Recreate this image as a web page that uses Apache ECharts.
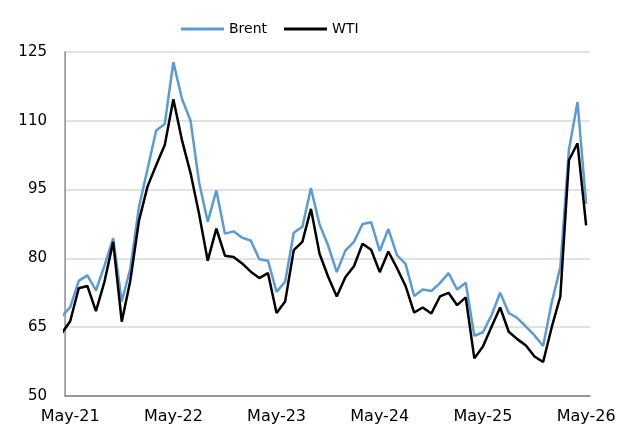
<!DOCTYPE html>
<html>
<head>
<meta charset="utf-8">
<script src="https://cdn.jsdelivr.net/npm/echarts@6/dist/echarts.min.js"></script>
<style>
html, body { margin: 0; padding: 0; background: #fff; }
#chart { width: 629px; height: 434px; }
</style>
</head>
<body>
<div id="chart"></div>
<script>
// month-end prices, Apr-21 .. May-26
const months = [
    'Apr-21', 'May-21', 'Jun-21', 'Jul-21', 'Aug-21', 'Sep-21', 'Oct-21', 'Nov-21', 'Dec-21',
    'Jan-22', 'Feb-22', 'Mar-22', 'Apr-22', 'May-22', 'Jun-22', 'Jul-22', 'Aug-22', 'Sep-22', 'Oct-22', 'Nov-22', 'Dec-22',
    'Jan-23', 'Feb-23', 'Mar-23', 'Apr-23', 'May-23', 'Jun-23', 'Jul-23', 'Aug-23', 'Sep-23', 'Oct-23', 'Nov-23', 'Dec-23',
    'Jan-24', 'Feb-24', 'Mar-24', 'Apr-24', 'May-24', 'Jun-24', 'Jul-24', 'Aug-24', 'Sep-24', 'Oct-24', 'Nov-24', 'Dec-24',
    'Jan-25', 'Feb-25', 'Mar-25', 'Apr-25', 'May-25', 'Jun-25', 'Jul-25', 'Aug-25', 'Sep-25', 'Oct-25', 'Nov-25', 'Dec-25',
    'Jan-26', 'Feb-26', 'Mar-26', 'Apr-26', 'May-26'
]
const brent = [
    67.3, 69.3, 75.1, 76.3, 73.0, 78.5, 84.4, 70.6, 77.8,
    91.2, 99.5, 107.9, 109.3, 122.8, 114.8, 110.0, 96.5, 88.0, 94.8, 85.4, 85.9,
    84.5, 83.9, 79.8, 79.5, 72.7, 74.9, 85.6, 86.9, 95.3, 87.4, 82.8, 77.0,
    81.7, 83.6, 87.5, 87.9, 81.6, 86.4, 80.7, 78.8, 71.8, 73.2, 72.9, 74.6,
    76.8, 73.2, 74.7, 63.1, 63.9, 67.6, 72.5, 68.1, 67.0, 65.1, 63.2, 60.9,
    70.4, 78.1, 103.7, 114.1, 91.9
]
const wti = [
    63.6, 66.3, 73.5, 74.0, 68.5, 75.0, 83.6, 66.2, 75.2,
    88.2, 95.7, 100.3, 104.7, 114.7, 105.8, 98.6, 89.6, 79.5, 86.5, 80.6, 80.3,
    78.9, 77.1, 75.7, 76.8, 68.1, 70.6, 81.8, 83.6, 90.8, 81.0, 76.0, 71.7,
    75.9, 78.3, 83.2, 81.9, 77.0, 81.5, 77.9, 74.0, 68.2, 69.3, 68.0, 71.7,
    72.5, 69.8, 71.5, 58.2, 60.8, 65.1, 69.3, 64.0, 62.4, 61.0, 58.6, 57.4,
    65.0, 71.7, 101.4, 105.1, 87.2
]
const xTicks = [0, 12, 24, 36, 48, 60]   // May of each year, counted from May-21
const yTicks = [50, 65, 80, 95, 110, 125]

const font = 'DejaVu Sans'
const toPairs = arr => arr.map((v, i) => [i - 1, v])

let chart = echarts.init(document.getElementById('chart'))
chart.setOption({
    animation: false,
    textStyle: { fontFamily: font, color: '#000' },
    legend: {
        top: 17,
        left: 176,
        icon: 'rect',
        itemWidth: 43,
        itemHeight: 3,
        itemGap: 17,
        textStyle: { fontFamily: font, fontSize: 14, color: '#000' },
        data: ['Brent', 'WTI']
    },
    grid: { left: 65, right: 39, top: 52, bottom: 38, containLabel: false },
    // the line clip rect is widened by the line width, so mask the bit left of the y axis
    graphic: [{
        type: 'rect',
        z: 3,
        silent: true,
        shape: { x: 50, y: 45, width: 14.2, height: 356 },
        style: { fill: '#fff' }
    }],
    xAxis: {
        type: 'value',
        min: -0.6,
        max: 60.45,
        axisLine: { show: true, onZero: false, lineStyle: { color: '#7f7f7f', width: 1.5 } },
        axisTick: { show: false },
        splitLine: { show: false },
        axisLabel: {
            customValues: xTicks,
            margin: 13,
            fontFamily: font,
            fontSize: 16,
            color: '#000',
            formatter: v => months[Math.round(v) + 1]
        }
    },
    yAxis: {
        type: 'value',
        min: yTicks[0],
        max: yTicks[yTicks.length - 1],
        interval: 15,
        axisLine: { show: true, onZero: false, lineStyle: { color: '#7f7f7f', width: 1.5 } },
        axisTick: { show: false },
        splitLine: { show: true, lineStyle: { color: '#d9d9d9', width: 1.5 } },
        axisLabel: { margin: 18, fontFamily: font, fontSize: 15, color: '#000' }
    },
    series: [
        {
            name: 'Brent',
            type: 'line',
            symbol: 'none',
            clip: true,
            data: toPairs(brent),
            lineStyle: { color: '#5b9bd5', width: 2.5 },
            itemStyle: { color: '#5b9bd5' }
        },
        {
            name: 'WTI',
            type: 'line',
            symbol: 'none',
            clip: true,
            data: toPairs(wti),
            lineStyle: { color: '#000', width: 2.5 },
            itemStyle: { color: '#000' }
        }
    ]
})
</script>
</body>
</html>
